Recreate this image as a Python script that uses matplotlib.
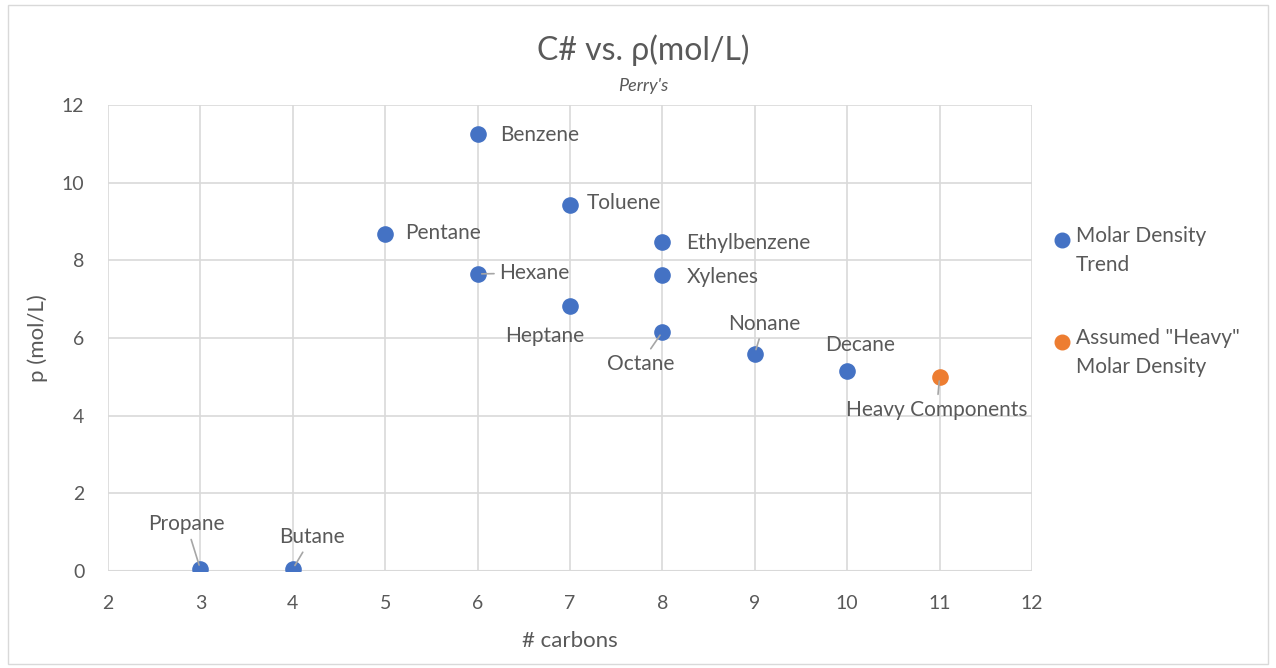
import matplotlib.pyplot as plt
from matplotlib.patches import Rectangle
from matplotlib.lines import Line2D

# data
names = ["Propane", "Butane", "Pentane", "Hexane", "Benzene", "Heptane", "Toluene",
         "Ethylbenzene", "Xylenes", "Octane", "Nonane", "Decane"]
carbons = [3, 4, 5, 6, 6, 7, 7, 8, 8, 8, 9, 10]
density = [0.05, 0.05, 8.67, 7.65, 11.25, 6.83, 9.42, 8.47, 7.63, 6.16, 5.60, 5.14]

heavy_name = ["Heavy Components"]
heavy_carbons = [11]
heavy_density = [5.0]

series_labels = ["Molar Density\nTrend", "Assumed \"Heavy\"\nMolar Density"]

# label offsets in pixels (dx, dy, ha, leader line?)
label_offsets = {
    "Propane": (-14, 45, "center", True),
    "Butane": (19, 32, "center", True),
    "Pentane": (20, 1, "left", False),
    "Hexane": (22, 1, "left", True),
    "Benzene": (23, -1, "left", False),
    "Heptane": (-25, -30, "center", False),
    "Toluene": (17, 2, "left", False),
    "Ethylbenzene": (24, -1, "left", False),
    "Xylenes": (24, -2, "left", False),
    "Octane": (-22, -32, "center", True),
    "Nonane": (9, 30, "center", True),
    "Decane": (13, 26, "center", False),
    "Heavy Components": (-3, -33, "center", True),
}

BLUE = "#4472C4"
ORANGE = "#ED7D31"
GREY = "#595959"
GRID = "#D9D9D9"

plt.rcParams["font.family"] = ["Lato", "DejaVu Sans"]

fig = plt.figure(figsize=(12.76, 6.68), dpi=100)
ax = fig.add_axes([0.0846, 0.1452, 0.7242, 0.6976])

ax.scatter(carbons, density, s=120, color=BLUE, zorder=3)
ax.scatter(heavy_carbons, heavy_density, s=120, color=ORANGE, zorder=3)

for nm, xv, yv in zip(names + heavy_name, carbons + heavy_carbons,
                      density + heavy_density):
    dx, dy, ha, leader = label_offsets[nm]
    arrow = None
    if leader:
        arrow = dict(arrowstyle="-", color="#A6A6A6", lw=1.2,
                     shrinkA=2, shrinkB=3)
    ax.annotate(nm, (xv, yv), xytext=(dx, dy), textcoords="offset pixels",
                ha=ha, va="center", fontsize=15, color=GREY,
                arrowprops=arrow, zorder=4)

ax.set_xlim(2, 12)
ax.set_ylim(0, 12)
ax.set_xticks(range(2, 13))
ax.set_yticks(range(0, 13, 2))
ax.grid(True, color=GRID, lw=1.2)
ax.set_axisbelow(True)
for sp in ax.spines.values():
    sp.set_visible(False)
ax.axhline(0, color=GRID, lw=1.5, zorder=1)
ax.tick_params(length=0, labelsize=14, colors=GREY, pad=17)

ax.set_xlabel("# carbons", fontsize=16, color=GREY, labelpad=14)
ax.set_ylabel("p (mol/L)", fontsize=16, color=GREY, labelpad=10)

fig.text(0.504, 0.925, "C# vs. ρ(mol/L)", ha="center", va="center",
         fontsize=23, color=GREY)
fig.text(0.504, 0.871, "Perry's", ha="center", va="center",
         fontsize=13, color=GREY, style="italic")

# legend drawn by hand so the marker sits on the first text line
leg_y = [0.641, 0.488]
for lab, col, yy in zip(series_labels, [BLUE, ORANGE], leg_y):
    fig.add_artist(Line2D([0.8323], [yy], marker="o", ms=10.5, color=col,
                          ls="none", transform=fig.transFigure))
    fig.text(0.8433, yy + 0.021, lab, ha="left", va="top", fontsize=15,
             color=GREY, linespacing=1.55, transform=fig.transFigure)

fig.add_artist(Rectangle((0.006, 0.006), 0.988, 0.986,
                         transform=fig.transFigure, fill=False,
                         edgecolor="#D9D9D9", lw=1))

fig.savefig("out.png", dpi=100)
